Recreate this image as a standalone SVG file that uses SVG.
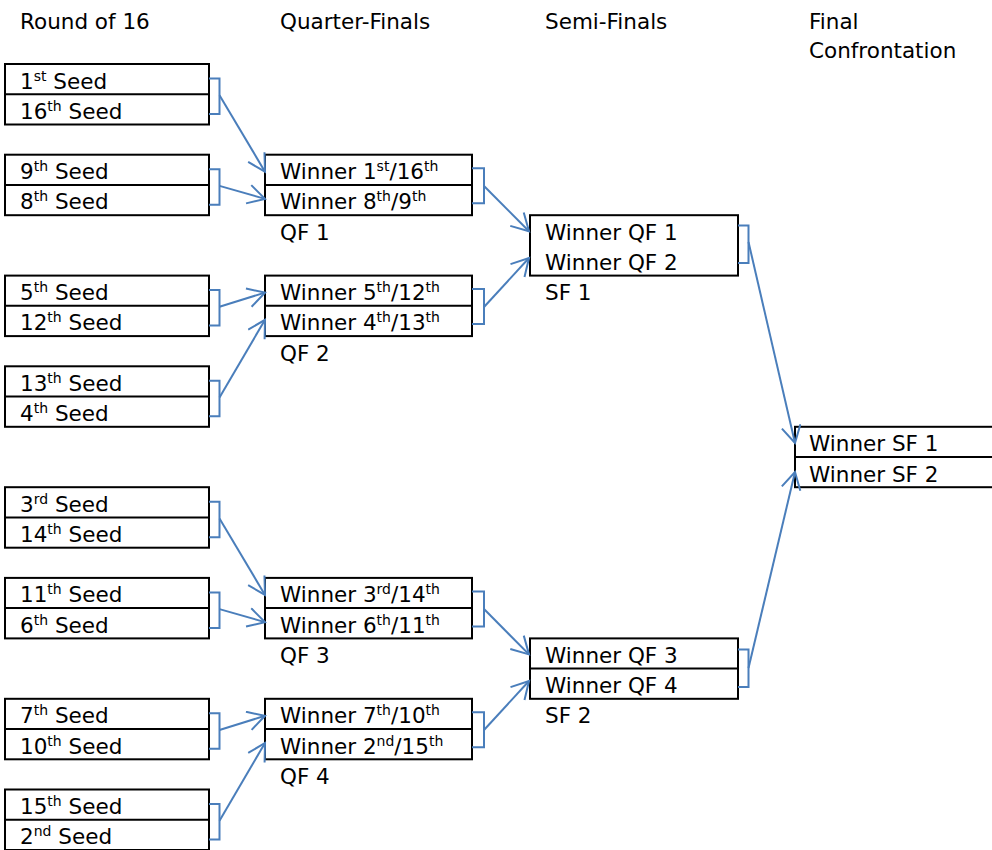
<svg xmlns="http://www.w3.org/2000/svg" width="992" height="850" viewBox="0 0 992 850">
<style>
.box{fill:none;stroke:#000;stroke-width:2}
.t{font-family:"DejaVu Sans",Verdana,sans-serif;font-size:21.5px;fill:#000}
.sup{font-size:14px}
.con{fill:none;stroke:#4A7EBB;stroke-width:2}
</style>
<defs>
<marker id="arr" markerUnits="userSpaceOnUse" markerWidth="22" markerHeight="22" refX="17" refY="10.5" orient="auto" viewBox="-1 0 22 22">
<path d="M0,1 L17,10.5 L0,20" fill="none" stroke="#4A7EBB" stroke-width="2"/>
</marker>
</defs>
<rect width="992" height="850" fill="#fff"/>
<g id="headers">
<text class="t" x="20" y="29">Round of 16</text>
<text class="t" x="280" y="29">Quarter-Finals</text>
<text class="t" x="545" y="29">Semi-Finals</text>
<text class="t" x="809" y="29">Final</text>
<text class="t" x="809" y="58">Confrontation</text>
</g>
<g id="r16-1">
<rect class="box" x="5" y="64" width="204" height="60.5"/><line class="box" x1="5" y1="94.2" x2="209" y2="94.2"/>
<text class="t" x="20" y="88.5">1<tspan class="sup" dy="-8">st</tspan><tspan dy="8"> Seed</tspan></text>
<text class="t" x="20" y="118.7">16<tspan class="sup" dy="-8">th</tspan><tspan dy="8"> Seed</tspan></text>
</g>
<g id="r16-2">
<rect class="box" x="5" y="154.7" width="204" height="60.5"/><line class="box" x1="5" y1="184.9" x2="209" y2="184.9"/>
<text class="t" x="20" y="179.2">9<tspan class="sup" dy="-8">th</tspan><tspan dy="8"> Seed</tspan></text>
<text class="t" x="20" y="209.4">8<tspan class="sup" dy="-8">th</tspan><tspan dy="8"> Seed</tspan></text>
</g>
<g id="r16-3">
<rect class="box" x="5" y="275.6" width="204" height="60.5"/><line class="box" x1="5" y1="305.8" x2="209" y2="305.8"/>
<text class="t" x="20" y="300.1">5<tspan class="sup" dy="-8">th</tspan><tspan dy="8"> Seed</tspan></text>
<text class="t" x="20" y="330.3">12<tspan class="sup" dy="-8">th</tspan><tspan dy="8"> Seed</tspan></text>
</g>
<g id="r16-4">
<rect class="box" x="5" y="366.3" width="204" height="60.5"/><line class="box" x1="5" y1="396.5" x2="209" y2="396.5"/>
<text class="t" x="20" y="390.8">13<tspan class="sup" dy="-8">th</tspan><tspan dy="8"> Seed</tspan></text>
<text class="t" x="20" y="421">4<tspan class="sup" dy="-8">th</tspan><tspan dy="8"> Seed</tspan></text>
</g>
<g id="r16-5">
<rect class="box" x="5" y="487.2" width="204" height="60.5"/><line class="box" x1="5" y1="517.5" x2="209" y2="517.5"/>
<text class="t" x="20" y="511.7">3<tspan class="sup" dy="-8">rd</tspan><tspan dy="8"> Seed</tspan></text>
<text class="t" x="20" y="542">14<tspan class="sup" dy="-8">th</tspan><tspan dy="8"> Seed</tspan></text>
</g>
<g id="r16-6">
<rect class="box" x="5" y="577.9" width="204" height="60.5"/><line class="box" x1="5" y1="608.1" x2="209" y2="608.1"/>
<text class="t" x="20" y="602.4">11<tspan class="sup" dy="-8">th</tspan><tspan dy="8"> Seed</tspan></text>
<text class="t" x="20" y="632.6">6<tspan class="sup" dy="-8">th</tspan><tspan dy="8"> Seed</tspan></text>
</g>
<g id="r16-7">
<rect class="box" x="5" y="698.8" width="204" height="60.5"/><line class="box" x1="5" y1="729" x2="209" y2="729"/>
<text class="t" x="20" y="723.3">7<tspan class="sup" dy="-8">th</tspan><tspan dy="8"> Seed</tspan></text>
<text class="t" x="20" y="753.5">10<tspan class="sup" dy="-8">th</tspan><tspan dy="8"> Seed</tspan></text>
</g>
<g id="r16-8">
<rect class="box" x="5" y="789.5" width="204" height="60.5"/><line class="box" x1="5" y1="819.7" x2="209" y2="819.7"/>
<text class="t" x="20" y="814">15<tspan class="sup" dy="-8">th</tspan><tspan dy="8"> Seed</tspan></text>
<text class="t" x="20" y="844.2">2<tspan class="sup" dy="-8">nd</tspan><tspan dy="8"> Seed</tspan></text>
</g>
<g id="qf1">
<rect class="box" x="265" y="154.7" width="207" height="60.5"/><line class="box" x1="265" y1="184.9" x2="472" y2="184.9"/>
<text class="t" x="280" y="179.2">Winner 1<tspan class="sup" dy="-8">st</tspan><tspan dy="8">/16</tspan><tspan class="sup" dy="-8">th</tspan></text>
<text class="t" x="280" y="209.4">Winner 8<tspan class="sup" dy="-8">th</tspan><tspan dy="8">/9</tspan><tspan class="sup" dy="-8">th</tspan></text>
<text class="t" x="280" y="239.7">QF 1</text>
</g>
<g id="qf2">
<rect class="box" x="265" y="275.6" width="207" height="60.5"/><line class="box" x1="265" y1="305.8" x2="472" y2="305.8"/>
<text class="t" x="280" y="300.1">Winner 5<tspan class="sup" dy="-8">th</tspan><tspan dy="8">/12</tspan><tspan class="sup" dy="-8">th</tspan></text>
<text class="t" x="280" y="330.3">Winner 4<tspan class="sup" dy="-8">th</tspan><tspan dy="8">/13</tspan><tspan class="sup" dy="-8">th</tspan></text>
<text class="t" x="280" y="360.6">QF 2</text>
</g>
<g id="qf3">
<rect class="box" x="265" y="577.9" width="207" height="60.5"/><line class="box" x1="265" y1="608.1" x2="472" y2="608.1"/>
<text class="t" x="280" y="602.4">Winner 3<tspan class="sup" dy="-8">rd</tspan><tspan dy="8">/14</tspan><tspan class="sup" dy="-8">th</tspan></text>
<text class="t" x="280" y="632.6">Winner 6<tspan class="sup" dy="-8">th</tspan><tspan dy="8">/11</tspan><tspan class="sup" dy="-8">th</tspan></text>
<text class="t" x="280" y="662.9">QF 3</text>
</g>
<g id="qf4">
<rect class="box" x="265" y="698.8" width="207" height="60.5"/><line class="box" x1="265" y1="729" x2="472" y2="729"/>
<text class="t" x="280" y="723.3">Winner 7<tspan class="sup" dy="-8">th</tspan><tspan dy="8">/10</tspan><tspan class="sup" dy="-8">th</tspan></text>
<text class="t" x="280" y="753.5">Winner 2<tspan class="sup" dy="-8">nd</tspan><tspan dy="8">/15</tspan><tspan class="sup" dy="-8">th</tspan></text>
<text class="t" x="280" y="783.8">QF 4</text>
</g>
<g id="sf1">
<rect class="box" x="530" y="215.2" width="208" height="60.4"/>
<text class="t" x="545" y="239.7">Winner QF 1</text>
<text class="t" x="545" y="269.9">Winner QF 2</text>
<text class="t" x="545" y="300.1">SF 1</text>
</g>
<g id="sf2">
<rect class="box" x="530" y="638.4" width="208" height="60.4"/><line class="box" x1="530" y1="668.6" x2="738" y2="668.6"/>
<text class="t" x="545" y="662.9">Winner QF 3</text>
<text class="t" x="545" y="693.1">Winner QF 4</text>
<text class="t" x="545" y="723.3">SF 2</text>
</g>
<g id="final">
<rect class="box" x="795" y="426.8" width="200" height="60.4"/><line class="box" x1="795" y1="457" x2="995" y2="457"/>
<text class="t" x="809" y="451.3">Winner SF 1</text>
<text class="t" x="809" y="481.5">Winner SF 2</text>
</g>
<g id="connectors">
<path class="con" d="M209,78.5 H219.5 V114 H209"/>
<path class="con" d="M209,169.2 H219.5 V204.7 H209"/>
<path class="con" d="M209,290.1 H219.5 V325.6 H209"/>
<path class="con" d="M209,380.8 H219.5 V416.3 H209"/>
<path class="con" d="M209,501.7 H219.5 V537.2 H209"/>
<path class="con" d="M209,592.4 H219.5 V627.9 H209"/>
<path class="con" d="M209,713.3 H219.5 V748.8 H209"/>
<path class="con" d="M209,804 H219.5 V839.5 H209"/>
<line class="con" x1="219.5" y1="95.2" x2="265" y2="171.7" marker-end="url(#arr)"/>
<line class="con" x1="219.5" y1="185.9" x2="265" y2="198.9" marker-end="url(#arr)"/>
<line class="con" x1="219.5" y1="306.8" x2="265" y2="292.6" marker-end="url(#arr)"/>
<line class="con" x1="219.5" y1="397.5" x2="265" y2="319.8" marker-end="url(#arr)"/>
<line class="con" x1="219.5" y1="518.5" x2="265" y2="594.9" marker-end="url(#arr)"/>
<line class="con" x1="219.5" y1="609.1" x2="265" y2="622.1" marker-end="url(#arr)"/>
<line class="con" x1="219.5" y1="730" x2="265" y2="715.8" marker-end="url(#arr)"/>
<line class="con" x1="219.5" y1="820.7" x2="265" y2="743" marker-end="url(#arr)"/>
<path class="con" d="M472,168.2 H484 V203.2 H472"/>
<path class="con" d="M472,289.1 H484 V324.1 H472"/>
<path class="con" d="M472,591.4 H484 V626.4 H472"/>
<path class="con" d="M472,712.3 H484 V747.3 H472"/>
<line class="con" x1="484" y1="186" x2="529" y2="231.2" marker-end="url(#arr)"/>
<line class="con" x1="484" y1="307" x2="529" y2="258" marker-end="url(#arr)"/>
<line class="con" x1="484" y1="609" x2="529" y2="654.4" marker-end="url(#arr)"/>
<line class="con" x1="484" y1="730" x2="529" y2="681" marker-end="url(#arr)"/>
<path class="con" d="M738,225.5 H748.5 V263 H738"/>
<path class="con" d="M738,649.5 H748.5 V687 H738"/>
<line class="con" x1="748.5" y1="242" x2="795" y2="443" marker-end="url(#arr)"/>
<line class="con" x1="748.5" y1="668" x2="795" y2="472" marker-end="url(#arr)"/>
</g>
</svg>
